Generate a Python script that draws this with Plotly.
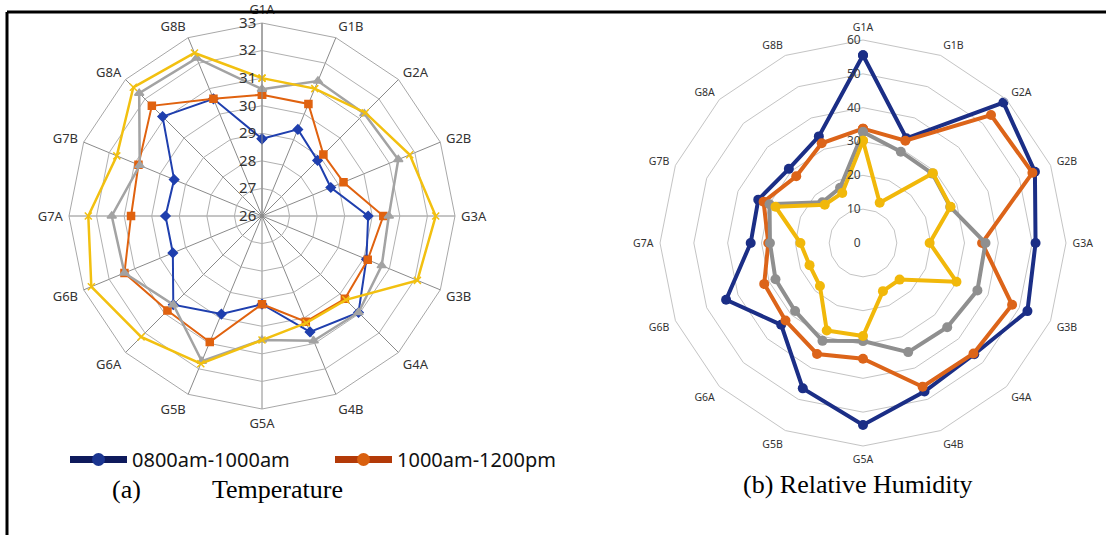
import plotly.graph_objects as go

categories = ["G1A", "G1B", "G2A", "G2B", "G3A", "G3B", "G4A", "G4B",
              "G5A", "G5B", "G6A", "G6B", "G7A", "G7B", "G8A", "G8B"]

series_names = ["0800am-1000am", "1000am-1200pm", "1200pm-0200pm", "0200pm-0400pm"]

# (a) Temperature
temp_0800 = [28.8, 29.4, 28.85, 28.7, 29.85, 30.1, 30.95, 30.55, 29.2, 29.85, 30.55, 29.5, 29.5, 29.45, 31.1, 30.6]
temp_1000 = [30.4, 30.4, 29.15, 29.2, 30.4, 30.15, 30.25, 30.15, 29.2, 30.95, 30.85, 31.4, 30.75, 30.85, 31.65, 30.6]
temp_1200 = [30.6, 31.3, 31.25, 31.35, 30.6, 30.7, 30.95, 30.9, 30.5, 31.7, 30.55, 31.4, 31.45, 30.8, 32.3, 32.2]
temp_1400 = [31.0, 31.0, 31.3, 31.8, 32.3, 32.1, 30.3, 30.2, 30.5, 31.8, 32.2, 32.7, 32.3, 31.7, 32.6, 32.4]
temp_ticks = [26, 27, 28, 29, 30, 31, 32, 33]

# (b) Relative Humidity
rh_0800 = [55.5, 33.5, 58.7, 55.0, 51.0, 52.6, 46.5, 47.5, 53.8, 46.5, 34.2, 43.8, 33.2, 33.5, 31.0, 34.1]
rh_1000 = [33.8, 32.7, 53.5, 54.2, 35.2, 47.7, 46.2, 46.0, 34.2, 35.5, 32.4, 31.6, 28.0, 31.8, 27.9, 31.9]
rh_1200 = [32.8, 29.2, 29.0, 27.9, 36.2, 36.6, 35.2, 34.9, 29.0, 31.3, 28.4, 28.0, 27.5, 29.9, 17.0, 17.7]
rh_1400 = [30.2, 12.9, 29.2, 28.0, 19.7, 29.9, 15.3, 15.4, 27.5, 28.0, 18.0, 17.1, 18.5, 28.0, 16.0, 16.0]
rh_ticks = [0, 10, 20, 30, 40, 50, 60]

W, H = 1106, 535

def closed(v):
    return list(v) + [v[0]]

theta = closed(categories)

fig = go.Figure()

# ---- left: temperature
left_styles = [
    (temp_0800, "#1f3fae", "diamond", 7, 2),
    (temp_1000, "#e0620f", "square", 7, 2),
    (temp_1200, "#a3a3a3", "triangle-up", 8, 2.5),
    (temp_1400, "#f2c010", "x-thin-open", 7, 2.5),
]
for (vals, col, sym, ms, lw), name in zip(left_styles, series_names):
    fig.add_trace(go.Scatterpolar(
        r=closed(vals), theta=theta, mode="lines+markers", name=name,
        line=dict(color=col, width=lw),
        marker=dict(symbol=sym, size=ms, color=col, line=dict(color=col, width=1.5)),
        subplot="polar", showlegend=False))

# ---- right: relative humidity
right_styles = [
    (rh_0800, "#1b2e86"),
    (rh_1000, "#dc6419"),
    (rh_1200, "#8f8f8f"),
    (rh_1400, "#f1b80a"),
]
for (vals, col), name in zip(right_styles, series_names):
    fig.add_trace(go.Scatterpolar(
        r=closed(vals), theta=theta, mode="lines+markers", name=name,
        line=dict(color=col, width=4),
        marker=dict(symbol="circle", size=10, color=col),
        subplot="polar2", showlegend=False))

# ---- legend entries (as in the reference: only two shown)
for name, col, mcol in [(series_names[0], "#0e1a5c", "#1b3590"), (series_names[1], "#b33a08", "#d9600f")]:
    fig.add_trace(go.Scatterpolar(
        r=[None], theta=[categories[0]], mode="lines+markers", name=name,
        line=dict(color=col, width=7),
        marker=dict(symbol="circle", size=13, color=mcol),
        subplot="polar", showlegend=True))

W_x = lambda px: px / W
H_y = lambda py: 1 - py / H

# left polar: centre (262,216), radius ~193
lc, lr = (262, 216), 193
# right polar: centre (863,243), radius ~203
rc, rr = (863, 243), 203

fig.update_layout(
    width=W, height=H,
    margin=dict(l=0, r=0, t=0, b=0),
    paper_bgcolor="white",
    plot_bgcolor="white",
    font=dict(family="Noto Sans, Open Sans, sans-serif", color="#404040"),
    polar=dict(
        domain=dict(x=[W_x(lc[0] - lr), W_x(lc[0] + lr)], y=[H_y(lc[1] + lr), H_y(lc[1] - lr)]),
        bgcolor="white",
        gridshape="linear",
        angularaxis=dict(
            rotation=90, direction="clockwise", type="category",
            categoryarray=categories, categoryorder="array",
            showgrid=True, gridcolor="#8a8a8a", gridwidth=1,
            showline=True, linecolor="#a8a8a8", linewidth=1,
            ticks="outside", ticklen=3, tickcolor="rgba(0,0,0,0)",
            tickfont=dict(size=13, color="#333333"),
        ),
        radialaxis=dict(
            range=[26, 33], tickvals=temp_ticks, angle=90, tickangle=90,
            side="counterclockwise",
            showgrid=True, gridcolor="#b0b0b0", gridwidth=1,
            showline=True, linecolor="#8a8a8a", linewidth=1,
            ticks="", tickfont=dict(size=15, color="#333333"),
        ),
    ),
    polar2=dict(
        domain=dict(x=[W_x(rc[0] - rr), W_x(rc[0] + rr)], y=[H_y(rc[1] + rr), H_y(rc[1] - rr)]),
        bgcolor="white",
        gridshape="linear",
        angularaxis=dict(
            rotation=90, direction="clockwise", type="category",
            categoryarray=categories, categoryorder="array",
            showgrid=False,
            showline=True, linecolor="#c4c4c4", linewidth=1,
            ticks="outside", ticklen=4, tickcolor="rgba(0,0,0,0)",
            tickfont=dict(size=10.5, color="#333333"),
        ),
        radialaxis=dict(
            range=[0, 60], tickvals=rh_ticks, angle=90, tickangle=90,
            side="counterclockwise",
            showgrid=True, gridcolor="#c4c4c4", gridwidth=1,
            showline=False,
            ticks="", tickfont=dict(size=12, color="#404040"),
        ),
    ),
    legend=dict(
        orientation="h", x=W_x(65), xanchor="left", y=H_y(440), yanchor="top",
        font=dict(size=20, color="#111111", family="Noto Sans, sans-serif"),
        itemwidth=57, entrywidth=193, entrywidthmode="pixels",
        bgcolor="rgba(0,0,0,0)", tracegroupgap=0,
    ),
    annotations=[
        dict(text="(a)", x=W_x(110), y=H_y(489), xref="paper", yref="paper",
             xanchor="left", yanchor="middle", showarrow=False,
             font=dict(family="Liberation Serif, Times New Roman, serif", size=26, color="black")),
        dict(text="Temperature", x=W_x(210), y=H_y(489), xref="paper", yref="paper",
             xanchor="left", yanchor="middle", showarrow=False,
             font=dict(family="Liberation Serif, Times New Roman, serif", size=26, color="black")),
        dict(text="(b) Relative Humidity", x=W_x(741), y=H_y(484), xref="paper", yref="paper",
             xanchor="left", yanchor="middle", showarrow=False,
             font=dict(family="Liberation Serif, Times New Roman, serif", size=26, color="black")),
    ],
    shapes=[
        dict(type="line", xref="paper", yref="paper", x0=W_x(7), x1=1, y0=H_y(12), y1=H_y(12),
             line=dict(color="black", width=3)),
        dict(type="line", xref="paper", yref="paper", x0=W_x(7), x1=W_x(7), y0=H_y(12), y1=0,
             line=dict(color="black", width=3)),
    ],
)

fig.write_html("out.html", config={"displayModeBar": False},
               post_script="document.body.style.margin='0';document.body.style.overflow='hidden';")
